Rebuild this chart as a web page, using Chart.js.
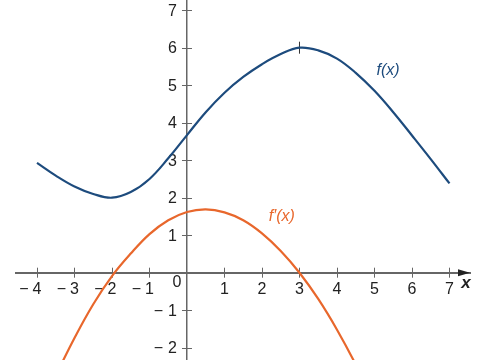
<!DOCTYPE html>
<html>
<head>
<meta charset="utf-8">
<script src="https://cdn.jsdelivr.net/npm/chart.js@4.4.1/dist/chart.umd.min.js"></script>
<style>
  html, body { margin: 0; padding: 0; background: #fff; }
  canvas { display: block; }
</style>
</head>
<body>
<canvas id="chart" width="487" height="360"></canvas>
<script>
// f(x), every half unit
const fX = [-4, -3.5, -3, -2.5, -2, -1.5, -1, -0.5, 0, 0.5, 1, 1.5, 2, 2.5, 3, 3.5, 4, 4.5, 5, 5.5, 6, 6.5, 7];
const fY = [2.93, 2.59, 2.3, 2.1, 2.0, 2.15, 2.5, 3.05, 3.67, 4.28, 4.8, 5.22, 5.56, 5.83, 6.0, 5.93, 5.71, 5.33, 4.85, 4.28, 3.66, 3.03, 2.38];

// f'(x)
const dX = [-3.5, -3, -2.5, -2, -1.5, -1, -0.5, 0, 0.5, 1, 1.5, 2, 2.5, 3, 3.5, 4, 4.5, 5];
const dY = [-2.74, -1.74, -0.84, -0.09, 0.51, 1.03, 1.4, 1.62, 1.69, 1.61, 1.4, 1.05, 0.58, 0, -0.7, -1.52, -2.45, -3.5];

// marked maximum of f
const maxX = [3];
const maxY = [6];

const xTicks = [-4, -3, -2, -1, 1, 2, 3, 4, 5, 6, 7];
const xTickLabels = ["4", "3", "2", "1", "1", "2", "3", "4", "5", "6", "7"];
const yTicks = [-2, -1, 1, 2, 3, 4, 5, 6, 7];
const yTickLabels = ["2", "1", "1", "2", "3", "4", "5", "6", "7"];

const BLUE = "#1d4b7d";
const ORANGE = "#e8672c";
const AXIS = "#666";
const TEXT = "#222";
const FONT = '"Liberation Sans", Arial, sans-serif';

const axisExtras = {
  id: "axisExtras",
  beforeDatasetsDraw(chart) {
    const { ctx, scales: { x, y }, chartArea } = chart;
    const x0 = x.getPixelForValue(0);
    const y0 = y.getPixelForValue(0);
    ctx.save();
    ctx.strokeStyle = AXIS;
    ctx.lineWidth = 1;
    // tick marks crossing the axes
    xTicks.forEach((v) => {
      const px = Math.round(x.getPixelForValue(v)) + 0.5;
      ctx.beginPath();
      ctx.moveTo(px, y0 - 5);
      ctx.lineTo(px, y0 + 5);
      ctx.stroke();
    });
    yTicks.forEach((v) => {
      const py = Math.round(y.getPixelForValue(v)) + 0.5;
      ctx.beginPath();
      ctx.moveTo(x0 - 5, py);
      ctx.lineTo(x0 + 5, py);
      ctx.stroke();
    });
    // arrow head on x axis
    const r = chartArea.right;
    ctx.fillStyle = TEXT;
    ctx.beginPath();
    ctx.moveTo(r, y0);
    ctx.lineTo(r - 12, y0 - 3.5);
    ctx.lineTo(r - 12, y0 + 3.5);
    ctx.closePath();
    ctx.fill();

    // tick labels, minus sign drawn apart like the original
    ctx.font = "16px " + FONT;
    ctx.fillStyle = TEXT;
    ctx.textBaseline = "middle";
    xTicks.forEach((v, i) => {
      const px = x.getPixelForValue(v);
      const w = ctx.measureText(xTickLabels[i]).width;
      ctx.textAlign = "center";
      ctx.fillText(xTickLabels[i], px, y0 + 17);
      if (v < 0) {
        ctx.textAlign = "right";
        ctx.fillText("\u2212", px - w / 2 - 4, y0 + 17);
      }
    });
    yTicks.forEach((v, i) => {
      const py = y.getPixelForValue(v);
      const w = ctx.measureText(yTickLabels[i]).width;
      ctx.textAlign = "right";
      ctx.fillText(yTickLabels[i], x0 - 10, py + 1);
      if (v < 0) ctx.fillText("\u2212", x0 - 10 - w - 5, py + 1);
    });
    ctx.restore();
  },
  afterDraw(chart) {
    const { ctx, scales: { x, y }, chartArea } = chart;
    const x0 = x.getPixelForValue(0);
    const y0 = y.getPixelForValue(0);
    ctx.save();
    ctx.textBaseline = "middle";
    ctx.textAlign = "center";
    ctx.fillStyle = TEXT;
    ctx.font = "16px " + FONT;
    ctx.fillText("0", x0 - 10, y0 + 10);
    ctx.font = "italic bold 17px " + FONT;
    ctx.fillText("x", chartArea.right - 4, y0 + 11);

    ctx.font = "italic 16px " + FONT;
    ctx.fillStyle = BLUE;
    ctx.fillText("f(x)", x.getPixelForValue(5.36), y.getPixelForValue(5.4));
    ctx.fillStyle = ORANGE;
    ctx.fillText("f\u2032(x)", x.getPixelForValue(2.53), y.getPixelForValue(1.5));
    ctx.restore();
  }
};

new Chart(document.getElementById("chart"), {
  type: "line",
  data: {
    datasets: [
      {
        data: fX.map((v, i) => ({ x: v, y: fY[i] })),
        borderColor: BLUE,
        borderWidth: 2.2,
        pointRadius: 0,
        tension: 0.4,
        fill: false
      },
      {
        data: dX.map((v, i) => ({ x: v, y: dY[i] })),
        borderColor: ORANGE,
        borderWidth: 2.2,
        pointRadius: 0,
        tension: 0.4,
        fill: false
      },
      {
        data: maxX.map((v, i) => ({ x: v, y: maxY[i] })),
        showLine: false,
        pointStyle: "line",
        rotation: 90,
        pointRadius: 6,
        borderColor: "#333",
        borderWidth: 1
      }
    ]
  },
  options: {
    responsive: false,
    animation: false,
    events: [],
    layout: { autoPadding: false, padding: { left: 16, right: 17, top: 0, bottom: 0 } },
    plugins: { legend: { display: false }, tooltip: { enabled: false } },
    scales: {
      x: {
        type: "linear",
        min: -4.56,
        max: 7.547,
        position: { y: 0 },
        afterFit: (s) => { s.height = 0; },
        grid: { display: false, drawTicks: false },
        border: { color: AXIS, width: 2 },
        ticks: { display: false }
      },
      y: {
        type: "linear",
        min: -2.328,
        max: 7.272,
        position: { x: 0 },
        afterFit: (s) => { s.width = 0; },
        grid: { display: false, drawTicks: false },
        border: { color: AXIS, width: 1.5 },
        ticks: { display: false }
      }
    }
  },
  plugins: [axisExtras]
});
</script>
</body>
</html>
